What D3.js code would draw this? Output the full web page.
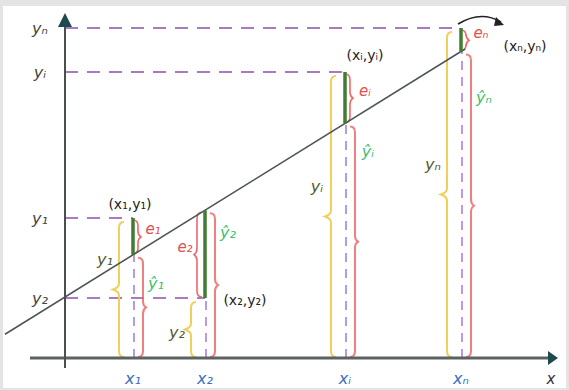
<!DOCTYPE html>
<html><head><meta charset="utf-8">
<script src="https://cdn.jsdelivr.net/npm/d3@7"></script>
<style>html,body{margin:0;padding:0;background:#fff}svg{display:block}</style>
</head><body>
<script>
// ---- data ----
const xLabels = ["x\u2081", "x\u2082", "x\u1d62", "x\u2099"];
const yLabels = ["y\u2081", "y\u2082", "y\u1d62", "y\u2099"];
const yHatLabels = ["\u0177\u2081", "\u0177\u2082", "\u0177\u1d62", "\u0177\u2099"];
const eLabels = ["e\u2081", "e\u2082", "e\u1d62", "e\u2099"];
const pointLabels = ["(x\u2081,y\u2081)", "(x\u2082,y\u2082)", "(x\u1d62,y\u1d62)", "(x\u2099,y\u2099)"];
const xValues = [1.7, 3.5, 7.0, 9.9];
const yValues = [3.5, 1.5, 7.15, 8.25];
const slope = 0.62;
const intercept = 1.525;
const lineDomain = [-1.5, 10.0];

const W = 569, H = 390;
const svg = d3.select("body").append("svg").attr("width", W).attr("height", H);

// frame
svg.append("rect").attr("x", 0).attr("y", 0).attr("width", W).attr("height", H).attr("fill", "#e4e4e4");
svg.append("rect").attr("x", 3).attr("y", 6).attr("width", W - 6).attr("height", H - 8).attr("fill", "#ffffff");

const x = d3.scaleLinear().domain([0, 12]).range([65, 545]);
const y = d3.scaleLinear().domain([0, 8.5]).range([358, 18]);
const fit = v => intercept + slope * v;

const data = xValues.map((v, i) => ({ i, x: v, y: yValues[i], yh: fit(v) }));

const font = "'DejaVu Sans', sans-serif";
const purple = "#9b62b8", lav = "#b79be0", yellow = "#f0cf5a", red = "#ec6a6a", green = "#3f7d32", lgreen = "#3cbf72";

// horizontal dashed guides from y-axis to each point
svg.selectAll(".hguide").data(data).join("line")
  .attr("x1", x(0)).attr("x2", d => x(d.x)).attr("y1", d => y(d.y)).attr("y2", d => y(d.y))
  .attr("stroke", purple).attr("stroke-width", 2).attr("stroke-dasharray", "13,9").attr("opacity", 0.85);

// vertical dashed from axis up to fitted/point
svg.selectAll(".vguide").data(data).join("line")
  .attr("x1", d => x(d.x) + 1).attr("x2", d => x(d.x) + 1)
  .attr("y1", y(0)).attr("y2", d => y(Math.min(d.y, d.yh)))
  .attr("stroke", lav).attr("stroke-width", 2).attr("stroke-dasharray", "9,7");

// yellow braces (y_i)
function braceLeft(xp, y0, y1, bump) {
  const p = d3.path();
  const m = (y0 + y1) / 2;
  p.moveTo(xp + 5, y0);
  p.quadraticCurveTo(xp, y0, xp, y0 - 6);
  p.lineTo(xp, m + 6);
  p.quadraticCurveTo(xp, m + 2, xp - bump, m);
  p.quadraticCurveTo(xp, m - 2, xp, m - 6);
  p.lineTo(xp, y1 + 6);
  p.quadraticCurveTo(xp, y1, xp + 5, y1);
  return p.toString();
}
function braceRight(xp, y0, y1, bump) {
  const p = d3.path();
  const m = (y0 + y1) / 2;
  p.moveTo(xp - 5, y0);
  p.quadraticCurveTo(xp, y0, xp, y0 - 6);
  p.lineTo(xp, m + 6);
  p.quadraticCurveTo(xp, m + 2, xp + bump, m);
  p.quadraticCurveTo(xp, m - 2, xp, m - 6);
  p.lineTo(xp, y1 + 6);
  p.quadraticCurveTo(xp, y1, xp - 5, y1);
  return p.toString();
}
svg.selectAll(".ybrace").data(data).join("path")
  .attr("d", d => braceLeft(x(d.x) - 14, y(0) - 1, y(d.y) + 4, 6))
  .attr("fill", "none").attr("stroke", yellow).attr("stroke-width", 2);

// red braces (y-hat)
svg.selectAll(".hbrace").data(data).join("path")
  .attr("d", d => braceRight(x(d.x) + 10, y(0) - 1, y(d.yh) + 3, 3))
  .attr("fill", "none").attr("stroke", red).attr("stroke-width", 2).attr("opacity", 0.85);

// residual small red brackets
svg.selectAll(".ebrace").data(data).join("path")
  .attr("d", d => {
    const hi = Math.max(d.y, d.yh), lo = Math.min(d.y, d.yh);
    const xp = d.i === 1 ? x(d.x) - 8 : x(d.x) + 5;
    return d.i === 1 ? braceLeft(xp, y(lo) - 1, y(hi) + 2, 3) : braceRight(xp, y(lo) - 1, y(hi) + 2, 3);
  })
  .attr("fill", "none").attr("stroke", red).attr("stroke-width", 1.6);

// regression line
svg.append("line")
  .attr("x1", x(lineDomain[0])).attr("y1", y(fit(lineDomain[0])))
  .attr("x2", x(lineDomain[1])).attr("y2", y(fit(lineDomain[1])))
  .attr("stroke", "#4e5656").attr("stroke-width", 1.6);

// residual bars
svg.selectAll(".resid").data(data).join("line")
  .attr("x1", d => x(d.x)).attr("x2", d => x(d.x))
  .attr("y1", d => y(d.y)).attr("y2", d => y(d.yh))
  .attr("stroke", green).attr("stroke-width", 3.5);

// axes
svg.append("line").attr("x1", 30).attr("x2", 548).attr("y1", y(0)).attr("y2", y(0))
  .attr("stroke", "#5a6262").attr("stroke-width", 3);
svg.append("path").attr("d", `M548,${y(0) - 7} L558,${y(0)} L548,${y(0) + 7} Z`).attr("fill", "#1e4a4e");
svg.append("line").attr("x1", x(0)).attr("x2", x(0)).attr("y1", 368).attr("y2", 22)
  .attr("stroke", "#4a5050").attr("stroke-width", 2);
svg.append("path").attr("d", `M${x(0) - 7},27 L${x(0)},13 L${x(0) + 7},27 Z`).attr("fill", "#1e4a4e");

// x-axis labels
svg.selectAll(".xl").data(data).join("text")
  .attr("x", d => x(d.x)).attr("y", 384).attr("text-anchor", "middle")
  .attr("font-family", font).attr("font-size", 16).attr("font-style", "italic").attr("fill", "#3a6fc4")
  .text(d => xLabels[d.i]);
svg.append("text").attr("x", 551).attr("y", 384).attr("text-anchor", "middle")
  .attr("font-family", font).attr("font-size", 15).attr("font-style", "italic").attr("fill", "#333")
  .text("x");

// y-axis labels
svg.selectAll(".yl").data(data).join("text")
  .attr("x", 40).attr("y", d => y(d.y) + 6).attr("text-anchor", "middle")
  .attr("font-family", font).attr("font-size", 16).attr("font-style", "italic").attr("fill", "#45453a")
  .text(d => yLabels[d.i]);

// y_i brace labels
const ybOff = [-23, 10, -23, -23];
svg.selectAll(".ybl").data(data).join("text")
  .attr("x", d => x(d.x) - 28).attr("y", d => (y(0) + y(d.y)) / 2 + ybOff[d.i])
  .attr("text-anchor", "middle")
  .attr("font-family", font).attr("font-size", 16).attr("font-style", "italic").attr("fill", "#4f5a2a")
  .text(d => yLabels[d.i]);

// y-hat labels
const yhOff = [34, 28, 34, 52];
svg.selectAll(".yhl").data(data).join("text")
  .attr("x", d => x(d.x) + 23).attr("y", d => y(d.yh) + yhOff[d.i])
  .attr("text-anchor", "middle")
  .attr("font-family", font).attr("font-size", 16).attr("font-style", "italic").attr("fill", lgreen)
  .text(d => yHatLabels[d.i]);

// e labels
svg.selectAll(".el").data(data).join("text")
  .attr("x", d => d.i === 1 ? x(d.x) - 20 : x(d.x) + 20)
  .attr("y", d => (y(d.y) + y(d.yh)) / 2 + (d.i === 1 ? -2 : -2))
  .attr("text-anchor", "middle")
  .attr("font-family", font).attr("font-size", 15).attr("font-style", "italic").attr("fill", "#e0504f")
  .text(d => eLabels[d.i]);

// point labels
const plOff = [[-3, -9], [40, 7], [20, -12], [64, 23]];
svg.selectAll(".pl").data(data).join("text")
  .attr("x", d => x(d.x) + plOff[d.i][0]).attr("y", d => y(d.y) + plOff[d.i][1])
  .attr("text-anchor", "middle")
  .attr("font-family", font).attr("font-size", 14).attr("fill", "#222")
  .text(d => pointLabels[d.i]);

// curved arrow near (x_n, y_n)
const pn = data[3];
svg.append("path")
  .attr("d", `M${x(pn.x) - 3},${y(pn.y) - 4} Q${x(pn.x) + 20},${y(pn.y) - 18} ${x(pn.x) + 40},${y(pn.y) - 6}`)
  .attr("fill", "none").attr("stroke", "#222").attr("stroke-width", 1.6);
svg.append("path")
  .attr("d", `M${x(pn.x) + 35},${y(pn.y) - 11} L${x(pn.x) + 43},${y(pn.y) - 3} L${x(pn.x) + 33},${y(pn.y) - 2} Z`)
  .attr("fill", "#222");
</script>
</body></html>
